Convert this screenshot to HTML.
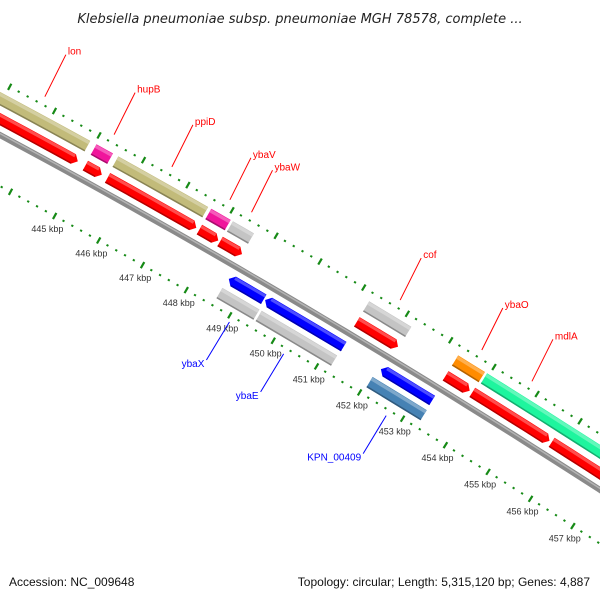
<!DOCTYPE html>
<html><head><meta charset="utf-8"><style>
html,body{margin:0;padding:0;background:#fff;overflow:hidden;width:600px;height:600px;}
svg{display:block;font-family:"Liberation Sans",sans-serif;}
</style></head><body>
<svg id="map" width="600" height="600" viewBox="0 0 600 600" xmlns="http://www.w3.org/2000/svg">
<rect width="600" height="600" fill="#fff"/>
<text x="300" y="23" text-anchor="middle" font-size="13" font-style="italic" fill="#222" font-family="'DejaVu Sans','Liberation Sans',sans-serif">Klebsiella pneumoniae subsp. pneumoniae MGH 78578, complete ...</text>
<g id="layer"></g>
<text x="9" y="586" font-size="12" fill="#111">Accession: NC_009648</text>
<text x="590" y="586" text-anchor="end" font-size="12" fill="#111">Topology: circular; Length: 5,315,120 bp; Genes: 4,887</text>
</svg>
<script>
// ---- data ----
const featNames  = ["lon","hupB","ppiD","ybaV","ybaW","cof","ybaO","mdlA","lon","hupB","ppiD","ybaV","ybaW","cof","ybaO","mdlA","mdlA","ybaX","ybaE","KPN_00409","ybaX","ybaE","KPN_00409"];
const featStart  = [442.8,445.04,445.53,447.63,448.12,451.23,453.28,453.95,442.8,445.05,445.55,447.63,448.10,451.23,453.28,453.90,455.75,448.62,449.45,452.12,448.60,449.50,452.06];
const featEnd    = [444.90,445.41,447.56,448.07,448.60,452.20,453.90,458,444.88,445.42,447.56,448.06,448.60,452.18,453.84,455.70,458,449.42,451.26,453.31,449.45,451.24,453.32];
const featKind   = ["gene","gene","gene","gene","gene","gene","gene","gene","cdsF","cdsF","cdsF","cdsF","cdsF","cdsF","cdsF","cdsF","cdsF","cdsR","cdsR","cdsR","geneR","geneR","geneR"];
const featColor  = ["#c2bb7a","#f0169c","#c2bb7a","#f0169c","#c4c4c4","#c4c4c4","#ff8c00","#1ef59e","#ff0000","#ff0000","#ff0000","#ff0000","#ff0000","#ff0000","#ff0000","#ff0000","#ff0000","#0000ff","#0000ff","#0000ff","#c4c4c4","#c4c4c4","#4682b4"];
const labelNames = ["lon","hupB","ppiD","ybaV","ybaW","cof","ybaO","mdlA","ybaX","ybaE","KPN_00409"];
const labelKbp   = [443.70,445.25,446.55,447.86,448.35,451.74,453.62,454.78,449.06,450.31,452.69];
const labelStrand= [1,1,1,1,1,1,1,1,-1,-1,-1];
const tickKbp    = [445,446,447,448,449,450,451,452,453,454,455,456,457];
const tickLabels = ["445 kbp","446 kbp","447 kbp","448 kbp","449 kbp","450 kbp","451 kbp","452 kbp","453 kbp","454 kbp","455 kbp","456 kbp","457 kbp"];

// ---- geometry ----
const NS="http://www.w3.org/2000/svg";
const R=8600, P0=[0,135], P1=[600,490];
const L=Math.hypot(P1[0]-P0[0],P1[1]-P0[1]);
const ux=(P1[0]-P0[0])/L, uy=(P1[1]-P0[1])/L;
const nx=-uy, ny=ux;
const h=Math.sqrt(R*R-(L/2)*(L/2));
const C=[(P0[0]+P1[0])/2+h*nx,(P0[1]+P1[1])/2+h*ny];
const a0=Math.atan2(P0[1]-C[1],P0[0]-C[0]);
const PX_PER_KBP=50.6, T445=87;
function tOf(k){return T445+(k-445)*PX_PER_KBP;}
function pos(k,r){const a=a0+tOf(k)/R;return [C[0]+(R+r)*Math.cos(a),C[1]+(R+r)*Math.sin(a)];}
const layer=document.getElementById('layer');
function mk(tag,attrs){const e=document.createElementNS(NS,tag);for(const k in attrs)e.setAttribute(k,attrs[k]);layer.appendChild(e);return e;}
function ptsStr(a){return a.map(p=>p[0].toFixed(1)+','+p[1].toFixed(1)).join(' ');}
function band(k1,k2,r1,r2){const pts=[];const n=Math.max(2,Math.ceil((k2-k1)*2));for(let i=0;i<=n;i++)pts.push(pos(k1+(k2-k1)*i/n,r2));for(let i=n;i>=0;i--)pts.push(pos(k1+(k2-k1)*i/n,r1));return pts;}
function shade(hex,f){const c=parseInt(hex.slice(1),16);let r=c>>16,g=(c>>8)&255,b=c&255;
 if(f>0){r+= (255-r)*f;g+=(255-g)*f;b+=(255-b)*f;}else{r*=1+f;g*=1+f;b*=1+f;}
 return 'rgb('+Math.round(r)+','+Math.round(g)+','+Math.round(b)+')';}

// backbone
let bb=mk('polygon',{points:ptsStr(band(442.8,458,-3,3)),fill:'#8a8a8a'});


let bbl=mk('polygon',{points:ptsStr(band(442.8,458,0.5,2)),fill:'#b4b4b4'});



// rulers
const rulerR=[47,-45];
for(let ri=0;ri<2;ri++){
 for(let k=4430;k<=4580;k+=2){
  const kb=k/10, major=(k%10===0);
  const a=pos(kb,rulerR[ri]+(major?3.5:1)), b=pos(kb,rulerR[ri]-(major?3.5:1));
  if(Math.max(a[0],b[0])>600||Math.min(a[0],b[0])<0||Math.max(a[1],b[1])>600) continue;
  const ln=mk('line',{x1:a[0],y1:a[1],x2:b[0],y2:b[1],stroke:'#168a16','stroke-width':2.2});
  
  
 }
}
tickKbp.forEach((k,i)=>{
 const p=pos(k,-60);
 const t=mk('text',{x:p[0].toFixed(1),y:(p[1]+3).toFixed(1),'text-anchor':'middle','font-size':9,fill:'#333'});
 t.textContent=tickLabels[i];
 
 
});

// features
const rowR={gene:32,cdsF:14,cdsR:-14,geneR:-31};
featNames.forEach((nm,i)=>{
 const kind=featKind[i], rc=rowR[kind], hh=kind.startsWith('cds')?5.5:6;
 const k1=featStart[i], k2=featEnd[i], col=featColor[i];
 let poly;
 if(kind==='cdsF'){
  const tip=0.1; const kb=Math.max(k1,k2-tip);
  poly=band(k1,kb,rc-hh,rc+hh); poly.splice(poly.length/2,0,pos(k2,rc));
 } else if(kind==='cdsR'){
  const tip=0.1; const ka=Math.min(k2,k1+tip);
  poly=band(ka,k2,rc-hh,rc+hh); poly.push(pos(k1,rc));
 } else poly=band(k1,k2,rc-hh,rc+hh);
 const g=mk('polygon',{points:ptsStr(poly),fill:col});
 
 
 const e1=kind==='cdsF'?k2-0.1:k2, s1=kind==='cdsR'?k1+0.1:k1;
 const hl=mk('polygon',{points:ptsStr(band(s1,e1,rc+hh*0.35,rc+hh-0.5)),fill:shade(col,0.3)});
 
 
 const dk=mk('polygon',{points:ptsStr(band(s1,e1,rc-hh,rc-hh+1.5)),fill:shade(col,-0.3)});
 
 
});

// labels
labelNames.forEach((nm,i)=>{
 const fwd=labelStrand[i]>0;
 const a=pos(labelKbp[i],fwd?55:-51);
 const b=fwd?[a[0]+21,a[1]-42]:[a[0]-23,a[1]+38];
 const col=fwd?'#ff0000':'#0000ff';
 const ln=mk('line',{x1:a[0],y1:a[1],x2:b[0],y2:b[1],stroke:col,'stroke-width':1});
 
 
 const t=mk('text',{x:(fwd?b[0]+2:b[0]-2).toFixed(1),y:(fwd?b[1]:b[1]+7).toFixed(1),'text-anchor':fwd?'start':'end','font-size':10,fill:col});
 t.textContent=nm;
 
 
});
</script>
</body></html>
